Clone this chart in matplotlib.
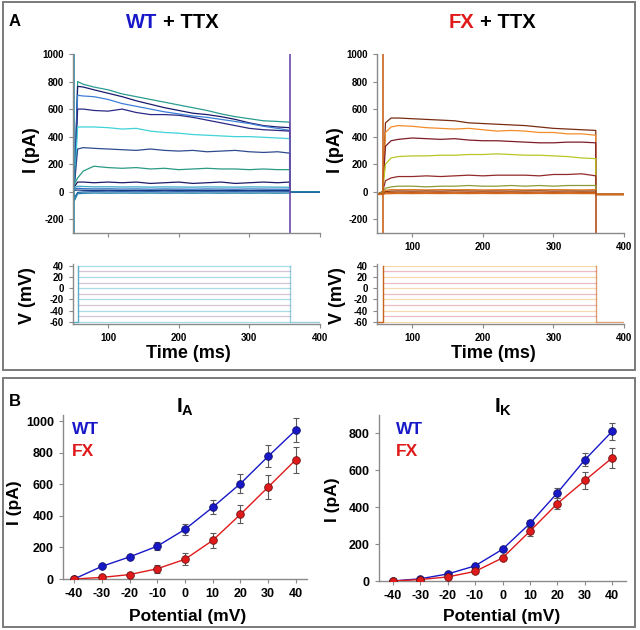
import matplotlib
matplotlib.use("Agg")
import matplotlib.pyplot as plt
from matplotlib.patches import Rectangle

plt.rcParams['font.family'] = ['Liberation Sans', 'DejaVu Sans']
plt.rcParams['font.weight'] = 'bold'
plt.rcParams['axes.unicode_minus'] = False
plt.rcParams['mathtext.fontset'] = 'custom'
plt.rcParams['mathtext.bf'] = 'Liberation Sans:bold'
plt.rcParams['mathtext.rm'] = 'Liberation Sans:bold'

# ---- panel A : current traces (pA) ----
wt_t = [53, 57, 65, 80, 100, 120, 140, 160, 180, 200, 220, 240, 260, 280, 300, 320, 340, 357]
wt_hold = 0
wt_traces = [
    [120, 800, 780, 760, 740, 710, 690, 670, 650, 630, 610, 590, 565, 545, 530, 515, 510, 505],
    [120, 765, 760, 740, 715, 690, 660, 635, 610, 590, 570, 560, 545, 525, 500, 480, 470, 465],
    [110, 700, 695, 690, 670, 640, 620, 600, 580, 565, 550, 540, 525, 510, 495, 475, 460, 445],
    [100, 600, 600, 590, 585, 600, 575, 560, 560, 555, 540, 520, 500, 480, 460, 450, 445, 440],
    [90, 470, 470, 470, 465, 455, 460, 440, 430, 425, 415, 410, 405, 400, 400, 395, 390, 385],
    [80, 310, 320, 315, 310, 305, 300, 310, 300, 295, 300, 290, 295, 300, 290, 285, 290, 280],
    [60, 100, 150, 185, 175, 170, 175, 165, 170, 160, 165, 170, 165, 165, 160, 165, 160, 160],
    [40, 70, 70, 65, 70, 65, 70, 60, 65, 70, 60, 65, 70, 60, 65, 70, 65, 70],
    [30, 40, 38, 35, 36, 34, 35, 33, 35, 34, 33, 35, 34, 33, 35, 34, 33, 32],
    [20, 25, 22, 20, 21, 19, 20, 18, 20, 19, 18, 20, 19, 18, 20, 19, 18, 18],
    [10, 12, 10, 9, 10, 8, 9, 8, 10, 9, 8, 9, 8, 9, 8, 9, 8, 8],
    [-40, -5, -2, 0, -1, 0, -1, 0, -1, 0, -1, 0, -1, 0, -1, 0, -1, 0],
    [-60, -15, -12, -10, -11, -10, -11, -10, -11, -10, -11, -10, -11, -10, -11, -10, -11, -10],
]
wt_colors = ['#2a9d8f', '#1b1b6e', '#3d7fd6', '#2b2a85', '#3fd3d8', '#2f4b8f', '#2a9a85',
             '#1c1c66', '#3aa6c8', '#2c6cc0', '#1a3a80', '#1f5aa8', '#1f7fa8']
wt_spike_t = [52.5, 357]
wt_spike_lo = [-300, -300]
wt_spike_hi = [1000, 1000]
wt_spike_col = ['#2a8fb0', '#6a4aa8']

fx_t = [58, 62, 70, 80, 100, 120, 140, 160, 180, 200, 220, 240, 260, 280, 300, 320, 340, 360]
fx_hold = -20
fx_traces = [
    [0, 500, 535, 535, 530, 525, 520, 515, 500, 495, 490, 485, 480, 470, 460, 455, 450, 445],
    [0, 430, 470, 480, 475, 465, 460, 455, 460, 450, 440, 445, 440, 430, 430, 420, 420, 410],
    [0, 330, 370, 380, 390, 385, 380, 385, 375, 370, 370, 365, 360, 355, 355, 360, 360, 355],
    [0, 200, 245, 255, 260, 260, 265, 265, 270, 270, 275, 270, 265, 265, 260, 255, 245, 240],
    [0, 80, 100, 110, 110, 115, 110, 115, 120, 115, 120, 120, 120, 115, 125, 125, 130, 115],
    [0, 25, 35, 40, 40, 35, 40, 40, 45, 40, 40, 45, 40, 45, 40, 45, 45, 45],
    [-10, 10, 15, 14, 15, 13, 15, 14, 15, 13, 14, 15, 13, 14, 15, 14, 13, 15],
    [-15, 0, 4, 5, 4, 5, 4, 6, 5, 4, 5, 4, 5, 6, 4, 5, 4, 5],
    [-20, -8, -5, -4, -5, -4, -5, -4, -5, -4, -5, -4, -5, -4, -5, -4, -5, -5],
    [-20, -15, -14, -13, -14, -13, -14, -13, -14, -13, -14, -13, -14, -13, -14, -13, -14, -14],
]
fx_colors = ['#7a2c12', '#f28c28', '#7d1c28', '#b9c623', '#932a2a', '#8c9b38',
             '#e07a20', '#8a3a10', '#c85a18', '#d46a1a']
fx_spike_t = [58, 360]
fx_spike_lo = [-300, -300]
fx_spike_hi = [1000, 0]
fx_spike_col = ['#c8641e', '#b0501a']

# ---- panel A : voltage protocol (mV) ----
v_levels = [40, 30, 20, 10, 0, -10, -20, -30, -40, -50, -60]
v_hold = -60
wt_v_on, wt_v_off = 57, 358
fx_v_on, fx_v_off = 58, 360
wt_v_colors = ['#a8dce6', '#d4c4d6']
fx_v_colors = ['#f8d8ae', '#ecbcc4']

# ---- panel B : I-V curves ----
potential = [-40, -30, -20, -10, 0, 10, 20, 30, 40]
ia_wt = [0, 80, 140, 208, 315, 455, 605, 778, 945]
ia_wt_err = [0, 5, 8, 25, 35, 43, 60, 70, 75]
ia_fx = [0, 10, 28, 65, 125, 245, 410, 583, 757]
ia_fx_err = [0, 5, 10, 25, 38, 48, 58, 75, 82]
ik_wt = [0, 12, 38, 82, 172, 312, 478, 657, 812]
ik_wt_err = [0, 3, 5, 8, 10, 20, 28, 35, 45]
ik_fx = [0, 8, 22, 52, 125, 270, 420, 545, 668]
ik_fx_err = [0, 3, 5, 6, 8, 25, 30, 45, 55]

BLUE = '#1818c8'
RED = '#e01a1a'
GRAY = '#8a8a8a'

fig = plt.figure(figsize=(6.4, 6.3), dpi=100)
W, H = 640.0, 630.0


def add_ax(l, r, top, bot):
    return fig.add_axes([l / W, 1 - bot / H, (r - l) / W, (bot - top) / H])


def style(ax, fs):
    for s in ['top', 'right']:
        ax.spines[s].set_visible(False)
    for s in ['left', 'bottom']:
        ax.spines[s].set_color(GRAY)
        ax.spines[s].set_linewidth(1.0)
    ax.tick_params(colors=GRAY, labelcolor='black', labelsize=fs, length=3, width=0.8)
    for lab in ax.get_xticklabels() + ax.get_yticklabels():
        lab.set_fontweight('bold')


def current_panel(ax, t, hold, traces, colors, sp_t, sp_lo, sp_hi, sp_col, labels):
    for vals, c in zip(traces, colors):
        xs = [50] + t + [t[-1], 400]
        ys = [hold] + vals + [hold, hold]
        ax.plot(xs, ys, color=c, lw=0.9)
    ax.vlines(sp_t, sp_lo, sp_hi, colors=sp_col, lw=1.2)
    ax.set_xlim(50, 400)
    ax.set_ylim(-300, 1000)
    ax.set_xticks([100, 200, 300, 400])
    ax.set_yticks([-200, 0, 200, 400, 600, 800, 1000])
    if not labels:
        ax.set_xticklabels([])
    style(ax, 7)


def voltage_panel(ax, on, off, cols, edge):
    for i, lv in enumerate(v_levels):
        ax.plot([on, off], [lv, lv], color=cols[i % 2], lw=0.9)
    ax.plot([50, on, on], [v_hold, v_hold, max(v_levels)], color=edge, lw=1.0)
    ax.plot([off, off, 400], [max(v_levels), v_hold, v_hold], color=edge, lw=1.0, alpha=0.6)
    ax.set_xlim(50, 400)
    ax.set_ylim(-64, 44)
    ax.set_xticks([100, 200, 300, 400])
    ax.set_yticks([40, 20, 0, -20, -40, -60])
    style(ax, 7)


ax1 = add_ax(72.7, 320, 54, 233)
current_panel(ax1, wt_t, wt_hold, wt_traces, wt_colors, wt_spike_t, wt_spike_lo,
              wt_spike_hi, wt_spike_col, False)
ax2 = add_ax(377, 624, 54, 233)
current_panel(ax2, fx_t, fx_hold, fx_traces, fx_colors, fx_spike_t, fx_spike_lo,
              fx_spike_hi, fx_spike_col, True)

ax3 = add_ax(72.7, 320, 263.5, 324)
voltage_panel(ax3, wt_v_on, wt_v_off, wt_v_colors, '#5aaec8')
ax4 = add_ax(377, 624, 263.5, 324)
voltage_panel(ax4, fx_v_on, fx_v_off, fx_v_colors, '#c8641e')


def iv_panel(ax, wt, wt_e, fx, fx_e, ylim, yticks, xlim):
    for y, e, c in [(wt, wt_e, BLUE), (fx, fx_e, RED)]:
        ax.errorbar(potential, y, yerr=e, fmt='none', ecolor='#5a5a5a', elinewidth=0.8,
                    capsize=2, capthick=0.8, zorder=2)
        ax.plot(potential, y, '-o', color=c, lw=1.0, ms=5.5, mec='#6a1010' if c == RED else '#10106a',
                mew=0.6, zorder=3)
    ax.set_xlim(*xlim)
    ax.set_ylim(*ylim)
    ax.set_xticks(potential)
    ax.set_yticks(yticks)
    style(ax, 9)


ax5 = add_ax(63, 307, 415, 579)
iv_panel(ax5, ia_wt, ia_wt_err, ia_fx, ia_fx_err, (0, 1040), [0, 200, 400, 600, 800, 1000], (-44, 44))
ax6 = add_ax(379, 626, 415, 581)
iv_panel(ax6, ik_wt, ik_wt_err, ik_fx, ik_fx_err, (0, 900), [0, 200, 400, 600, 800], (-45, 45))


def ftext(x, y, s, **kw):
    fig.text(x / W, 1 - y / H, s, fontweight='bold', **kw)


# panel boxes
fig.patches.append(Rectangle((3 / W, 1 - 370 / H), 632 / W, 368 / H, transform=fig.transFigure,
                             fill=False, ec='#7a7a7a', lw=1.4))
fig.patches.append(Rectangle((3 / W, 1 - 627 / H), 632 / W, 249 / H, transform=fig.transFigure,
                             fill=False, ec='#7a7a7a', lw=1.4))

ftext(15, 22, 'A', fontsize=12, ha='center', va='center')
ftext(15, 401, 'B', fontsize=12, ha='center', va='center')

ftext(157, 22, 'WT', fontsize=14.5, color=BLUE, ha='right', va='center')
ftext(163, 22, '+ TTX', fontsize=14.5, ha='left', va='center')
ftext(474, 22, 'FX', fontsize=14.5, color=RED, ha='right', va='center')
ftext(480, 22, '+ TTX', fontsize=14.5, ha='left', va='center')

ftext(31, 150, 'I (pA)', fontsize=13, rotation=90, ha='center', va='center')
ftext(335, 150, 'I (pA)', fontsize=13, rotation=90, ha='center', va='center')
ftext(28, 296, 'V (mV)', fontsize=13, rotation=90, ha='center', va='center')
ftext(337, 296, 'V (mV)', fontsize=13, rotation=90, ha='center', va='center')
ftext(188, 353, 'Time (ms)', fontsize=13, ha='center', va='center')
ftext(493, 353, 'Time (ms)', fontsize=13, ha='center', va='center')

ftext(185, 407, r'$\mathbf{I_A}$', fontsize=15, ha='center', va='center')
ftext(503, 407, r'$\mathbf{I_K}$', fontsize=15, ha='center', va='center')
ftext(72, 430, 'WT', fontsize=12.5, color=BLUE, ha='left', va='center')
ftext(72, 451, 'FX', fontsize=12.5, color=RED, ha='left', va='center')
ftext(396, 430, 'WT', fontsize=12.5, color=BLUE, ha='left', va='center')
ftext(396, 451, 'FX', fontsize=12.5, color=RED, ha='left', va='center')

ftext(14, 503, 'I (pA)', fontsize=12.5, rotation=90, ha='center', va='center')
ftext(333, 500, 'I (pA)', fontsize=12.5, rotation=90, ha='center', va='center')
ftext(188, 617, 'Potential (mV)', fontsize=12.5, ha='center', va='center')
ftext(502, 617, 'Potential (mV)', fontsize=12.5, ha='center', va='center')

fig.savefig('out.png', dpi=100)
